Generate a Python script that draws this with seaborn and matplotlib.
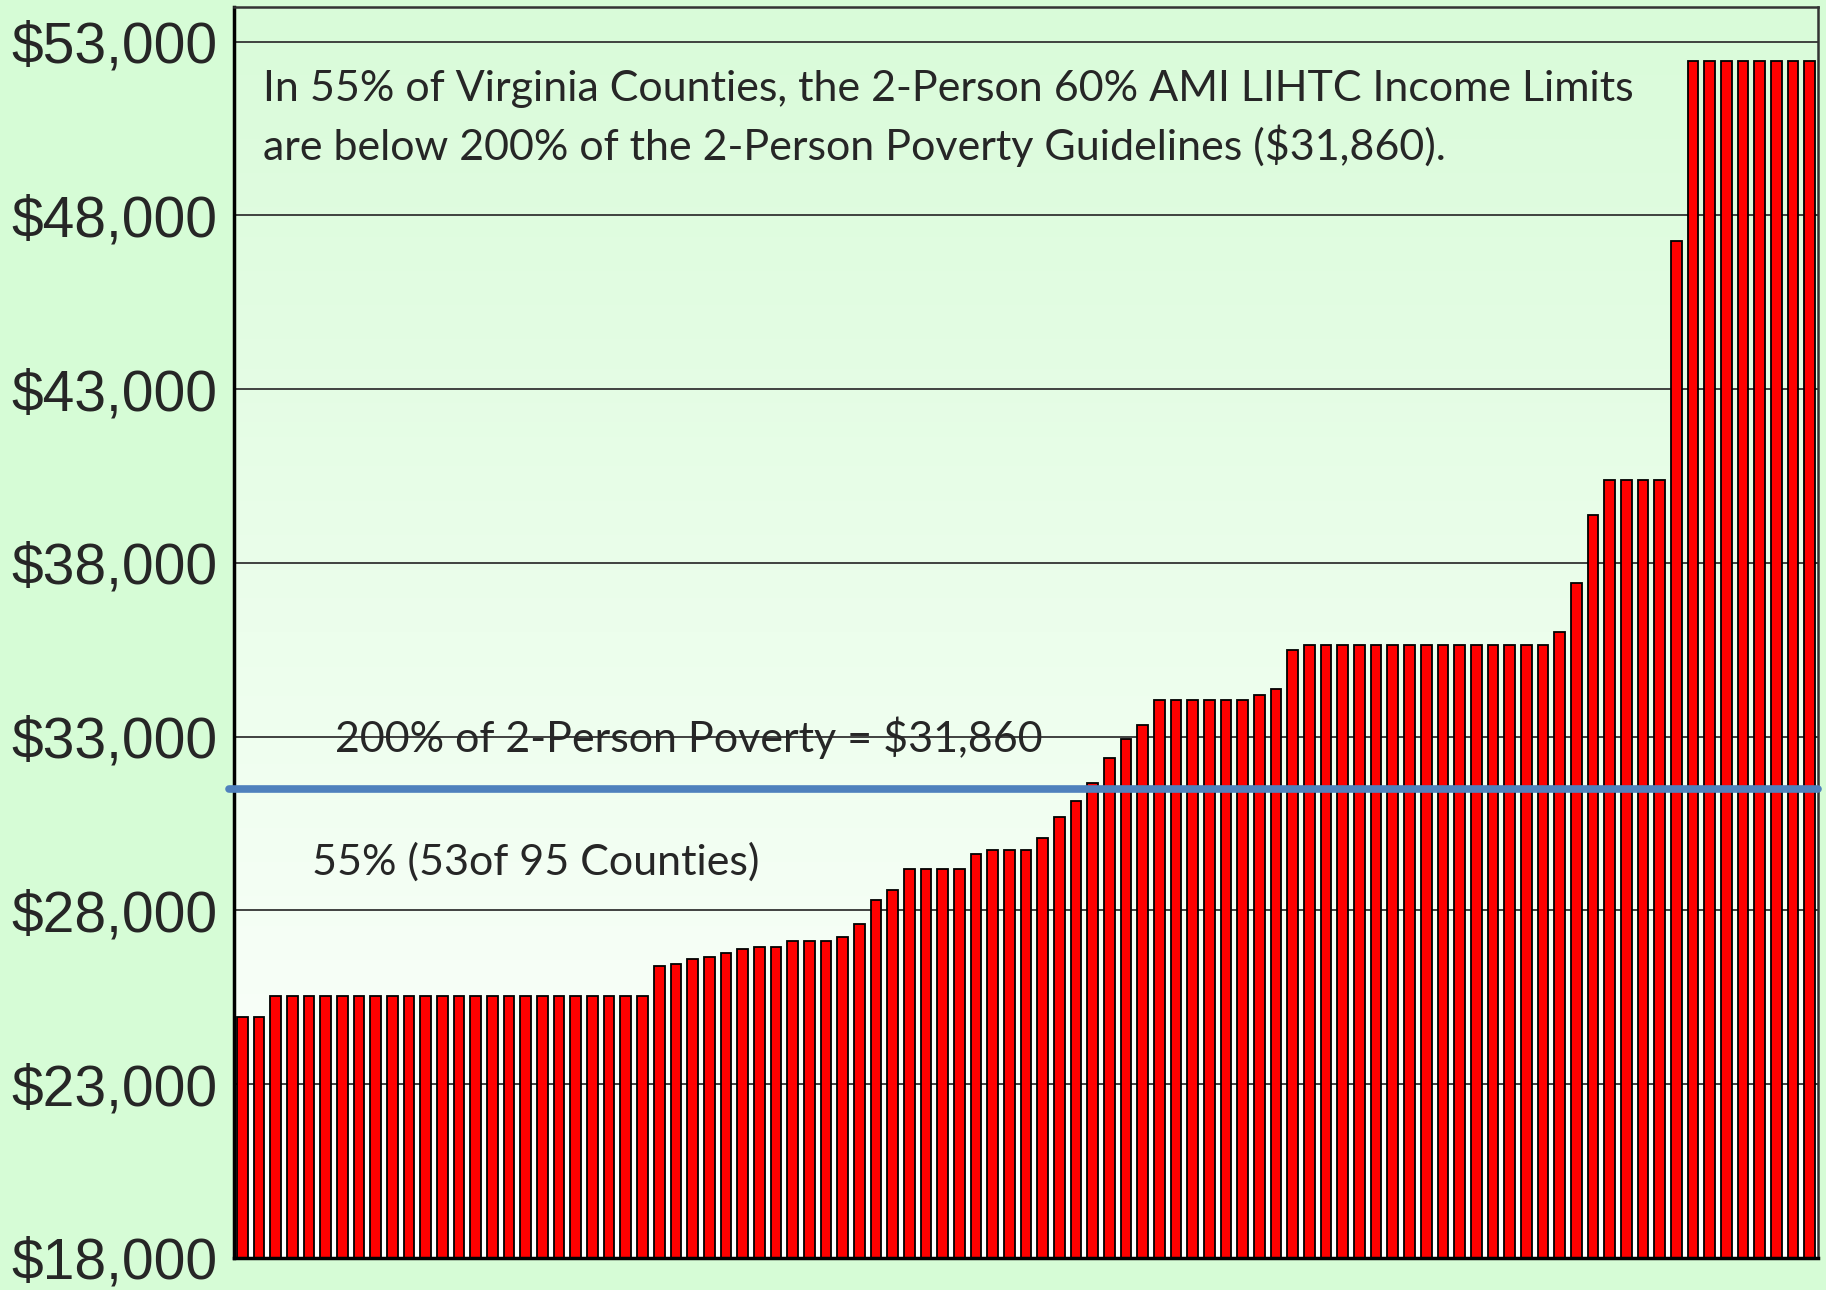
import numpy as np
import matplotlib
matplotlib.use("Agg")
import matplotlib.pyplot as plt
import seaborn as sns

# 2-person 60% AMI LIHTC income limits, Virginia counties, sorted ascending
limits = ([24940] * 2 + [25530] * 23 +
          [26410, 26470, 26600, 26650, 26780, 26900, 26940, 26940,
           27130, 27130, 27130, 27250, 27600, 28300, 28600] +
          [29190] * 4 + [29620] + [29750] * 3 +
          [30100, 30690, 31150, 31680, 32400, 32940, 33350] +
          [34060] * 6 + [34190, 34370, 35490] + [35640] * 15 +
          [36010, 37420, 39370] + [40400] * 4 + [47280] + [52450] * 8)
counties = list(range(len(limits)))
poverty_line = 31500  # where the blue line is drawn
tick_values = [18000, 23000, 28000, 33000, 38000, 43000, 48000, 53000]

title_text = ("In 55% of Virginia Counties, the 2-Person 60% AMI LIHTC Income Limits\n"
              "are below 200% of the 2-Person Poverty Guidelines ($31,860).")
line_label = "200% of 2-Person Poverty = $31,860"
share_label = "55% (53of 95 Counties)"

sns.set_style("white")
plt.rcParams['font.family'] = ['Liberation Sans', 'DejaVu Sans']

fig = plt.figure(figsize=(18.26, 12.9), dpi=100)
fig.patch.set_facecolor("#d6fcd6")
ax = fig.add_axes([234 / 1826, 1 - 1258 / 1290, 1584 / 1826, 1251 / 1290])

# light green (top) to white (bottom) background inside the plot area
grad = np.linspace(0, 1, 256).reshape(-1, 1)
cmap = matplotlib.colors.LinearSegmentedColormap.from_list("bg", ["#d9fbd9", "#ecfeec", "#ffffff"])
ax.imshow(grad, aspect="auto", cmap=cmap, extent=[-0.5, len(limits) - 0.5, 18000, 54000],
          zorder=0, origin="upper")

for v in tick_values:
    ax.axhline(v, color="#333333", lw=1.3, zorder=1)

sns.barplot(x=counties, y=limits, color="#ff0000", edgecolor="black", linewidth=1.3,
            width=0.64, saturation=1, ax=ax, zorder=2)

ax.set_xlim(-0.5, len(limits) - 0.5)
ax.set_ylim(18000, 54000)
ax.set_yticks(tick_values)
ax.set_yticklabels(["${:,}".format(v) for v in tick_values], fontsize=41)
ax.tick_params(axis="y", length=0, pad=12)
ax.set_xticks([])
ax.set_xlabel("")
ax.set_ylabel("")

ax.axhline(poverty_line, xmin=-0.003, xmax=1, color="#4f81bd", lw=5.5, zorder=3, clip_on=False)

for side in ["left", "bottom"]:
    ax.spines[side].set_linewidth(2.5)
    ax.spines[side].set_color("black")
for side in ["top", "right"]:
    ax.spines[side].set_visible(True)
    ax.spines[side].set_linewidth(1.8)
    ax.spines[side].set_color("#333333")

txt_font = ["Lato", "DejaVu Sans"]
ax.text(0.0183, 0.911, title_text, transform=ax.transAxes, fontsize=31, family=txt_font,
        va="center", ha="left", linespacing=1.48, zorder=4)
ax.text(0.064, 0.4157, line_label, transform=ax.transAxes, fontsize=31, family=txt_font,
        va="center", ha="left", zorder=4)
ax.text(0.049, 0.3166, share_label, transform=ax.transAxes, fontsize=31, family=txt_font,
        va="center", ha="left", zorder=4)

fig.savefig("out.png", dpi=100, facecolor=fig.get_facecolor())
plt.close()
